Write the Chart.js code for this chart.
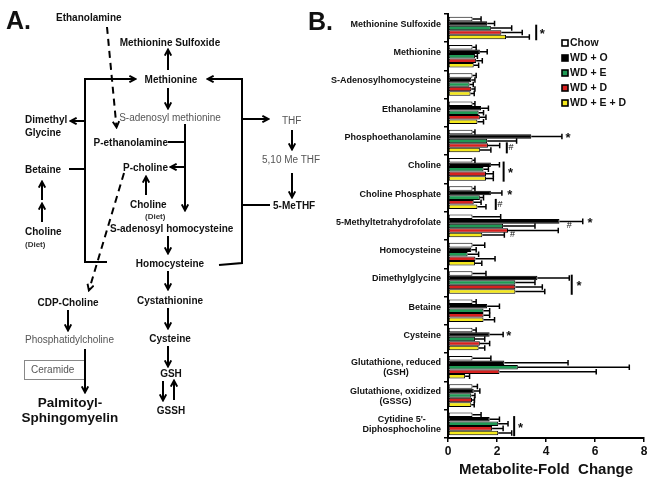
<!DOCTYPE html>
<html><head><meta charset="utf-8">
<script src="https://cdn.jsdelivr.net/npm/chart.js@4.4.0/dist/chart.umd.min.js"></script>
<style>
html,body{margin:0;padding:0;background:#fff;}
#wrap{position:relative;width:653px;height:484px;overflow:hidden;}
#c{position:absolute;left:0;top:0;}
svg{position:absolute;left:0;top:0;}
</style></head><body>
<div id="wrap">
<canvas id="c" width="653" height="484"></canvas>
<svg width="653" height="484" font-family="Liberation Sans, Arial, sans-serif">
<defs><marker id="ah" viewBox="0 0 10 10" refX="8" refY="5" markerWidth="8" markerHeight="8" markerUnits="userSpaceOnUse" orient="auto"><path d="M1,1 L8.5,5 L1,9" fill="none" stroke="#000" stroke-width="2.4"/></marker></defs>
<g font-weight="bold" font-size="10" fill="#111">
<text x="6" y="29" font-size="25">A.</text>
<text x="308" y="30" font-size="25">B.</text>
<text x="56" y="21">Ethanolamine</text>
<text x="170" y="46" text-anchor="middle">Methionine Sulfoxide</text>
<text x="171" y="83" text-anchor="middle">Methionine</text>
<text x="168" y="146" text-anchor="end">P-ethanolamine</text>
<text x="168" y="171" text-anchor="end">P-choline</text>
<text x="130" y="208">Choline</text>
<text x="145" y="219" font-size="8" fill="#333">(Diet)</text>
<text x="110" y="232">S-adenosyl homocysteine</text>
<text x="170" y="267" text-anchor="middle">Homocysteine</text>
<text x="170" y="304" text-anchor="middle">Cystathionine</text>
<text x="170" y="342" text-anchor="middle">Cysteine</text>
<text x="171" y="377" text-anchor="middle">GSH</text>
<text x="171" y="414" text-anchor="middle">GSSH</text>
<text x="25" y="123">Dimethyl</text>
<text x="25" y="136">Glycine</text>
<text x="25" y="173">Betaine</text>
<text x="25" y="235">Choline</text>
<text x="25" y="247" font-size="8" fill="#333">(Diet)</text>
<text x="68" y="306" text-anchor="middle">CDP-Choline</text>
<text x="273" y="209">5-MeTHF</text>
<text x="70" y="407" text-anchor="middle" font-size="13.5">Palmitoyl-</text>
<text x="70" y="422" text-anchor="middle" font-size="13.5">Sphingomyelin</text>
</g>
<g font-size="10" fill="#555">
<text x="170" y="121" text-anchor="middle">S-adenosyl methionine</text>
<text x="282" y="124">THF</text>
<text x="262" y="163">5,10 Me THF</text>
<text x="25" y="343">Phosphatidylcholine</text>
<text x="31" y="373">Ceramide</text>
</g>
<rect x="24.5" y="360.5" width="60" height="19" fill="none" stroke="#888"/>
<g stroke="#000" stroke-width="2" fill="none">
<path d="M107,27 L116.5,127" stroke-dasharray="7,5" marker-end="url(#ah)"/>
<path d="M168,70 L168,50" marker-end="url(#ah)"/>
<path d="M168,88 L168,108" marker-end="url(#ah)"/>
<path d="M107,262 L85,262 L85,79 L135,79" marker-end="url(#ah)"/>
<path d="M85,121 L71,121" marker-end="url(#ah)"/>
<path d="M69,169 L85,169"/>
<path d="M42,200 L42,182" marker-end="url(#ah)"/>
<path d="M42,222 L42,204" marker-end="url(#ah)"/>
<path d="M219,265 L242,263 L242,79 L208,79" marker-end="url(#ah)"/>
<path d="M242,119 L268,119" marker-end="url(#ah)"/>
<path d="M292,130 L292,149" marker-end="url(#ah)"/>
<path d="M292,173 L292,197" marker-end="url(#ah)"/>
<path d="M242,205 L270,205"/>
<path d="M168,142 L185,142"/>
<path d="M185,124 L185,210" marker-end="url(#ah)"/>
<path d="M185,167 L171,167" marker-end="url(#ah)"/>
<path d="M146,195 L146,177" marker-end="url(#ah)"/>
<path d="M124,173 L89,290" stroke-dasharray="7,5" marker-end="url(#ah)"/>
<path d="M168,236 L168,253" marker-end="url(#ah)"/>
<path d="M168,271 L168,289" marker-end="url(#ah)"/>
<path d="M168,308 L168,328" marker-end="url(#ah)"/>
<path d="M168,346 L168,366" marker-end="url(#ah)"/>
<path d="M163,381 L163,400" marker-end="url(#ah)"/>
<path d="M174,400 L174,381" marker-end="url(#ah)"/>
<path d="M68,310 L68,330" marker-end="url(#ah)"/>
<path d="M85,349 L85,392" marker-end="url(#ah)"/>
</g>
</svg>
</div>
<script>
const categories = ['Methionine Sulfoxide','Methionine','S-Adenosylhomocysteine','Ethanolamine','Phosphoethanolamine','Choline','Choline Phosphate','5-Methyltetrahydrofolate','Homocysteine','Dimethylglycine','Betaine','Cysteine',['Glutathione, reduced','(GSH)'],['Glutathione, oxidized','(GSSG)'],["Cytidine 5'-",'Diphosphocholine']];
const seriesNames = ['Chow','WD + O','WD + E','WD + D','WD + E + D'];
const chow    = [1.0,1.0,1.0,1.0,1.0,1.0,1.0,1.0,1.0,1.0,1.0,1.0,1.0,1.0,1.0];
const chowErr = [0.35,0.15,0.15,0.1,0.1,0.1,0.1,1.15,0.5,0.55,0.15,0.15,0.75,0.2,0.35];
const wdO     = [1.6,1.3,0.95,1.35,3.4,1.75,1.75,4.55,0.95,3.65,1.6,1.7,2.3,1.05,1.7];
const wdOErr  = [0.3,0.3,0.15,0.3,1.25,0.35,0.45,0.95,0.2,1.3,0.5,0.55,2.6,0.25,0.4];
const wdE     = [1.75,1.1,0.88,1.25,1.6,1.45,1.3,2.25,0.8,2.75,1.45,1.1,2.85,0.95,2.05];
const wdEErr  = [0.85,0.1,0.15,0.2,1.2,0.2,0.15,1.3,0.45,0.8,0.25,0.4,4.55,0.15,0.4];
const wdD     = [2.18,1.15,0.95,1.3,1.63,1.55,1.05,2.45,1.12,2.75,1.45,1.3,2.1,0.98,1.8];
const wdDErr  = [0.85,0.25,0.15,0.25,0.48,0.3,0.3,2.05,0.8,1.1,0.25,0.4,3.95,0.1,0.45];
const wdED    = [2.37,1.05,0.92,1.2,1.3,1.55,1.2,1.4,1.1,2.75,1.45,1.25,0.7,0.95,2.05];
const wdEDErr = [0.95,0.2,0.15,0.25,0.45,0.3,0.35,0.9,0.28,1.2,0.45,0.25,0.18,0.12,0.55];
const xTicks = [0,2,4,6,8];
// significance marks: category, bar rows spanned, position (fold units), symbol
const sigMarks = [
  {cat:0, rows:[2,4], at:3.6, bracket:true, mark:'*', markAt:3.85},
  {cat:4, rows:[1,1], at:4.9, bracket:false, mark:'*', markAt:4.9},
  {cat:4, rows:[3,4], at:2.4, bracket:true, mark:'#', markAt:2.57},
  {cat:5, rows:[1,4], at:2.27, bracket:true, mark:'*', markAt:2.55},
  {cat:6, rows:[1,1], at:2.52, bracket:false, mark:'*', markAt:2.52},
  {cat:6, rows:[3,4], at:1.95, bracket:true, mark:'#', markAt:2.12},
  {cat:7, rows:[1,1], at:5.8, bracket:false, mark:'*', markAt:5.8},
  {cat:7, rows:[2,2], at:4.95, bracket:false, mark:'#', markAt:4.95},
  {cat:7, rows:[4,4], at:2.63, bracket:false, mark:'#', markAt:2.63},
  {cat:9, rows:[1,4], at:5.05, bracket:true, mark:'*', markAt:5.35},
  {cat:11, rows:[1,1], at:2.48, bracket:false, mark:'*', markAt:2.48},
  {cat:14, rows:[1,4], at:2.7, bracket:true, mark:'*', markAt:2.96}
];
const FONT = 'Liberation Sans, Arial, sans-serif';
const values = [chow,wdO,wdE,wdD,wdED];
const errs = [chowErr,wdOErr,wdEErr,wdDErr,wdEDErr];
const colors = ['#ffffff','#000000','#1f9a55','#d7211f','#f4e81c'];

const errorBars = {
  id:'errorBars',
  afterDatasetsDraw(chart){
    const ctx = chart.ctx, xs = chart.scales.x;
    ctx.save(); ctx.strokeStyle='#000'; ctx.lineWidth=1.5;
    chart.data.datasets.forEach((ds,di)=>{
      const meta = chart.getDatasetMeta(di);
      meta.data.forEach((bar,i)=>{
        const v = ds.data[i], e = errs[di][i];
        const x0 = xs.getPixelForValue(v), x1 = xs.getPixelForValue(v+e);
        const y = bar.y, h = bar.height;
        ctx.beginPath(); ctx.moveTo(x0,y); ctx.lineTo(x1,y);
        ctx.moveTo(x1,y-h/2-0.5); ctx.lineTo(x1,y+h/2+0.5); ctx.stroke();
      });
    });
    ctx.restore();
  }
};
const labelsPlugin = {
  id:'catLabels',
  afterDraw(chart){
    const ctx = chart.ctx, ys = chart.scales.y;
    const right = ys.right - 7;
    ctx.save(); ctx.fillStyle='#111'; ctx.font='bold 9px '+FONT; ctx.textBaseline='middle';
    categories.forEach((lab,i)=>{
      const cy = ys.getPixelForValue(i);
      if (Array.isArray(lab)) {
        const w = Math.max(...lab.map(t=>ctx.measureText(t).width));
        const cx = right - w/2;
        ctx.textAlign='center';
        lab.forEach((t,k)=>ctx.fillText(t, cx, cy-4.5+k*10));
      } else {
        ctx.textAlign='right';
        ctx.fillText(lab, right, cy-3.5);
      }
    });
    // legend
    const lx = chart.chartArea.left + 114, ly0 = 43;
    chart.data.datasets.forEach((ds,di)=>{
      const y = ly0 + di*15;
      ctx.fillStyle = ds.backgroundColor; ctx.fillRect(lx, y-3, 6, 6);
      ctx.strokeStyle='#000'; ctx.lineWidth=1.6; ctx.strokeRect(lx, y-3, 6, 6);
      ctx.fillStyle='#111'; ctx.font='bold 10.5px '+FONT; ctx.textAlign='left';
      ctx.fillText(ds.label, lx+8, y+0.5);
    });
    // significance
    const xs = chart.scales.x;
    sigMarks.forEach(s=>{
      const b0 = chart.getDatasetMeta(s.rows[0]).data[s.cat];
      const b1 = chart.getDatasetMeta(s.rows[1]).data[s.cat];
      const top = b0.y - b0.height/2 - 1, bot = b1.y + b1.height/2 + 1;
      const x = xs.getPixelForValue(s.at);
      ctx.fillStyle='#111'; ctx.textAlign='center'; ctx.textBaseline='middle';
      if (s.bracket) {
        ctx.strokeStyle='#000'; ctx.lineWidth=2;
        ctx.beginPath(); ctx.moveTo(x,top); ctx.lineTo(x,bot); ctx.stroke();
      }
      const mx = xs.getPixelForValue(s.markAt);
      if (s.mark==='*') { ctx.font='bold 13px '+FONT; ctx.fillText('*', mx, (top+bot)/2+2); }
      else { ctx.font='9px '+FONT; ctx.fillText('#', mx, (top+bot)/2); }
    });
    ctx.restore();
  }
};

new Chart(document.getElementById('c'), {
  type:'bar',
  data:{
    labels: categories,
    datasets: seriesNames.map((n,i)=>({label:n, data:values[i], backgroundColor:colors[i], borderColor:'#000', borderWidth:1, borderSkipped:false, categoryPercentage:0.8, barPercentage:1.0}))
  },
  options:{
    responsive:false, animation:false, devicePixelRatio:1, indexAxis:'y',
    layout:{padding:{left:0,right:9,top:8,bottom:0}},
    plugins:{legend:{display:false}, tooltip:{enabled:false}},
    scales:{
      x:{min:0,max:8, afterBuildTicks(s){ s.ticks = xTicks.map(v=>({value:v})); },
        ticks:{color:'#111', font:{family:FONT, weight:'bold', size:12}, padding:2},
        grid:{drawOnChartArea:false, drawTicks:true, tickLength:4, color:'#000', lineWidth:1.5},
        border:{display:true, color:'#000', width:2},
        title:{display:true, text:'Metabolite-Fold  Change', color:'#111', font:{family:FONT, weight:'bold', size:15}, padding:{top:0,bottom:5}},
        afterFit(s){ s.height = 46; }
      },
      y:{ ticks:{color:'rgba(0,0,0,0)', font:{family:FONT, size:9}},
        grid:{offset:true, drawOnChartArea:false, drawTicks:true, tickLength:4, color:'#000', lineWidth:1.5},
        border:{display:true, color:'#000', width:2},
        afterFit(s){ s.width = 448; }
      }
    }
  },
  plugins:[errorBars, labelsPlugin]
});
</script>
</body></html>
